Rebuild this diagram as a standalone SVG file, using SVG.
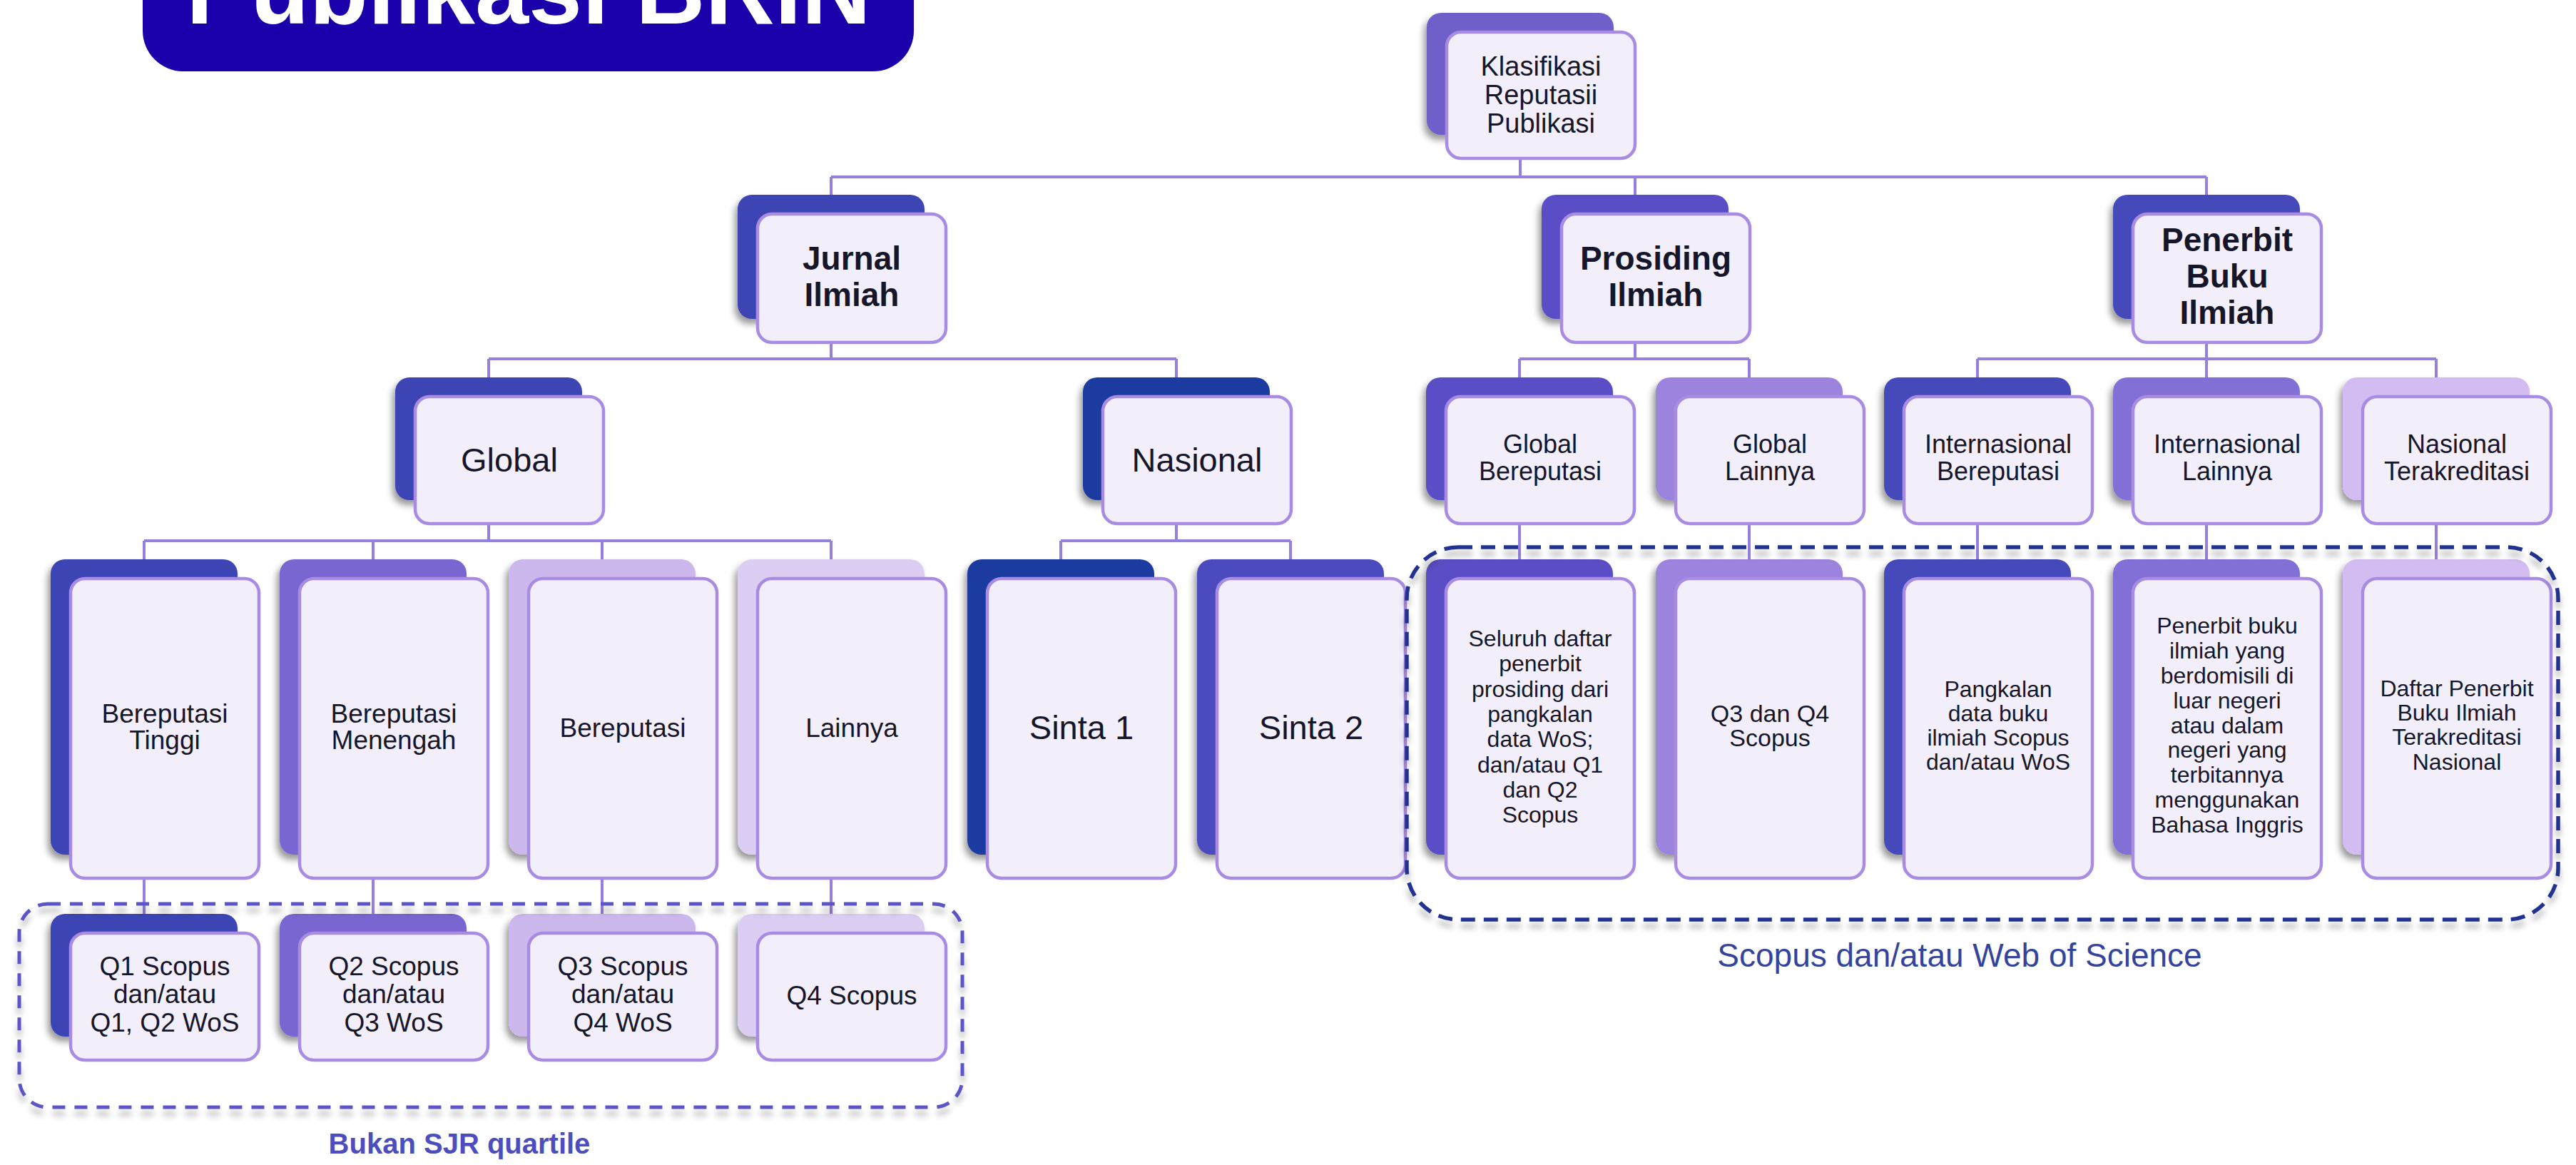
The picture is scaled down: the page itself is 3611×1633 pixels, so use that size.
<svg xmlns="http://www.w3.org/2000/svg" width="3611" height="1633" viewBox="0 0 3611 1633">
<defs>
<filter id="sh" x="-20%" y="-20%" width="140%" height="140%"><feDropShadow dx="-4" dy="7" stdDeviation="5" flood-color="#000" flood-opacity="0.4"/></filter>
<filter id="dsh" x="-5%" y="-10%" width="110%" height="125%"><feDropShadow dx="0" dy="9" stdDeviation="4" flood-color="#000" flood-opacity="0.3"/></filter>
<style>
.back{filter:url(#sh);}
.front{fill:#F3EFFA;stroke:#A88CE4;stroke-width:4.5;}
.conn{stroke:#9580E0;stroke-width:4;fill:none;}
.t{font-family:"Liberation Sans",Arial,sans-serif;fill:#16162a;text-anchor:middle;}
.b{font-weight:bold;}
.s46{font-size:46px;}
.s47{font-size:47px;}
.s38{font-size:38px;}
.s36{font-size:36px;}
.s37{font-size:37px;}
.s32{font-size:32px;}
.s34{font-size:34px;}
.c1{fill:#6E5FC9;}
.c2{fill:#3D45B4;}
.c3{fill:#5A4EC5;}
.c4{fill:#4449BA;}
.c5{fill:#1E3BA0;}
.c6{fill:#4B4BBF;}
.c7{fill:#7966D0;}
.c8{fill:#CDB8EE;}
.c9{fill:#DCCEF2;}
.c10{fill:#9C83DD;}
.c11{fill:#8270D6;}
.c12{fill:#D2BCF2;}
</style>
</defs>
<rect width="3611" height="1633" fill="#FFFFFF"/>

<g id="title">
<rect x="200" y="-60" width="1081" height="160" rx="57" fill="#1A00AA"/>
<text x="741" y="33" font-family="Liberation Sans, Arial, sans-serif" font-weight="bold" font-size="135" fill="#FFFFFF" text-anchor="middle">Publikasi BRIN</text>
</g>

<g id="connectors">
<path class="conn" d="M2131 222V248M1165 248H3093M1165 248V273M2292 248V273M3093 248V273"/>
<path class="conn" d="M1165 480V503M685 503H1649M685 503V529M1649 503V529"/>
<path class="conn" d="M2292 480V503M2130 503H2452M2130 503V529M2452 503V529"/>
<path class="conn" d="M3093 480V503M2772 503H3415M2772 503V529M3093 503V529M3415 503V529"/>
<path class="conn" d="M685 734V758M202 758H1165M202 758V784M523 758V784M844 758V784M1165 758V784"/>
<path class="conn" d="M1649 734V758M1487 758H1809M1487 758V784M1809 758V784"/>
<path class="conn" d="M2130 734V784M2452 734V784M2772 734V784M3093 734V784M3415 734V784"/>
<path class="conn" d="M202 1231V1281M523 1231V1281M844 1231V1281M1165 1231V1281"/>
</g>

<g id="node-root">
<rect class="back c1" x="2000" y="18" width="262" height="171" rx="20"/>
<rect class="front" x="2028" y="45" width="264" height="177" rx="20"/>
<text class="t s38" x="2160" y="106">Klasifikasi</text>
<text class="t s38" x="2160" y="146">Reputasii</text>
<text class="t s38" x="2160" y="186">Publikasi</text>
</g>

<g id="node-jurnal">
<rect class="back c2" x="1034" y="273" width="262" height="174" rx="20"/>
<rect class="front" x="1062" y="300" width="264" height="180" rx="20"/>
<text class="t b s46" x="1194" y="378">Jurnal</text>
<text class="t b s46" x="1194" y="429">Ilmiah</text>
</g>

<g id="node-prosiding">
<rect class="back c3" x="2161" y="273" width="262" height="174" rx="20"/>
<rect class="front" x="2189" y="300" width="264" height="180" rx="20"/>
<text class="t b s46" x="2321" y="378">Prosiding</text>
<text class="t b s46" x="2321" y="429">Ilmiah</text>
</g>

<g id="node-penerbit">
<rect class="back c4" x="2962" y="273" width="262" height="174" rx="20"/>
<rect class="front" x="2990" y="300" width="264" height="180" rx="20"/>
<text class="t b s46" x="3122" y="352">Penerbit</text>
<text class="t b s46" x="3122" y="403">Buku</text>
<text class="t b s46" x="3122" y="454">Ilmiah</text>
</g>

<g id="node-global">
<rect class="back c2" x="554" y="529" width="262" height="172" rx="20"/>
<rect class="front" x="582" y="556" width="264" height="178" rx="20"/>
<text class="t s47" x="714" y="661">Global</text>
</g>

<g id="node-nasional">
<rect class="back c5" x="1518" y="529" width="262" height="172" rx="20"/>
<rect class="front" x="1546" y="556" width="264" height="178" rx="20"/>
<text class="t s47" x="1678" y="661">Nasional</text>
</g>

<g id="node-global-bereputasi">
<rect class="back c3" x="1999" y="529" width="262" height="172" rx="20"/>
<rect class="front" x="2027" y="556" width="264" height="178" rx="20"/>
<text class="t s36" x="2159" y="635">Global</text>
<text class="t s36" x="2159" y="673">Bereputasi</text>
</g>

<g id="node-global-lainnya">
<rect class="back c10" x="2321" y="529" width="262" height="172" rx="20"/>
<rect class="front" x="2349" y="556" width="264" height="178" rx="20"/>
<text class="t s36" x="2481" y="635">Global</text>
<text class="t s36" x="2481" y="673">Lainnya</text>
</g>

<g id="node-internasional-bereputasi">
<rect class="back c4" x="2641" y="529" width="262" height="172" rx="20"/>
<rect class="front" x="2669" y="556" width="264" height="178" rx="20"/>
<text class="t s36" x="2801" y="635">Internasional</text>
<text class="t s36" x="2801" y="673">Bereputasi</text>
</g>

<g id="node-internasional-lainnya">
<rect class="back c11" x="2962" y="529" width="262" height="172" rx="20"/>
<rect class="front" x="2990" y="556" width="264" height="178" rx="20"/>
<text class="t s36" x="3122" y="635">Internasional</text>
<text class="t s36" x="3122" y="673">Lainnya</text>
</g>

<g id="node-nasional-terakreditasi">
<rect class="back c12" x="3284" y="529" width="262" height="172" rx="20"/>
<rect class="front" x="3312" y="556" width="264" height="178" rx="20"/>
<text class="t s36" x="3444" y="635">Nasional</text>
<text class="t s36" x="3444" y="673">Terakreditasi</text>
</g>

<g id="node-bereputasi-tinggi">
<rect class="back c2" x="71" y="784" width="262" height="414" rx="20"/>
<rect class="front" x="99" y="811" width="264" height="420" rx="20"/>
<text class="t s37" x="231" y="1013">Bereputasi</text>
<text class="t s37" x="231" y="1050">Tinggi</text>
</g>

<g id="node-bereputasi-menengah">
<rect class="back c7" x="392" y="784" width="262" height="414" rx="20"/>
<rect class="front" x="420" y="811" width="264" height="420" rx="20"/>
<text class="t s37" x="552" y="1013">Bereputasi</text>
<text class="t s37" x="552" y="1050">Menengah</text>
</g>

<g id="node-bereputasi">
<rect class="back c8" x="713" y="784" width="262" height="414" rx="20"/>
<rect class="front" x="741" y="811" width="264" height="420" rx="20"/>
<text class="t s37" x="873" y="1033">Bereputasi</text>
</g>

<g id="node-lainnya">
<rect class="back c9" x="1034" y="784" width="262" height="414" rx="20"/>
<rect class="front" x="1062" y="811" width="264" height="420" rx="20"/>
<text class="t s37" x="1194" y="1033">Lainnya</text>
</g>

<g id="node-sinta-1">
<rect class="back c5" x="1356" y="784" width="262" height="414" rx="20"/>
<rect class="front" x="1384" y="811" width="264" height="420" rx="20"/>
<text class="t s47" x="1516" y="1036">Sinta 1</text>
</g>

<g id="node-sinta-2">
<rect class="back c6" x="1678" y="784" width="262" height="414" rx="20"/>
<rect class="front" x="1706" y="811" width="264" height="420" rx="20"/>
<text class="t s47" x="1838" y="1036">Sinta 2</text>
</g>

<g id="node-seluruh">
<rect class="back c3" x="1999" y="784" width="262" height="414" rx="20"/>
<rect class="front" x="2027" y="811" width="264" height="420" rx="20"/>
<text class="t s32" x="2159" y="906">Seluruh daftar</text>
<text class="t s32" x="2159" y="941">penerbit</text>
<text class="t s32" x="2159" y="977">prosiding dari</text>
<text class="t s32" x="2159" y="1012">pangkalan</text>
<text class="t s32" x="2159" y="1047">data WoS;</text>
<text class="t s32" x="2159" y="1083">dan/atau Q1</text>
<text class="t s32" x="2159" y="1118">dan Q2</text>
<text class="t s32" x="2159" y="1153">Scopus</text>
</g>

<g id="node-q3q4">
<rect class="back c10" x="2321" y="784" width="262" height="414" rx="20"/>
<rect class="front" x="2349" y="811" width="264" height="420" rx="20"/>
<text class="t s34" x="2481" y="1012">Q3 dan Q4</text>
<text class="t s34" x="2481" y="1046">Scopus</text>
</g>

<g id="node-pangkalan">
<rect class="back c4" x="2641" y="784" width="262" height="414" rx="20"/>
<rect class="front" x="2669" y="811" width="264" height="420" rx="20"/>
<text class="t s32" x="2801" y="977">Pangkalan</text>
<text class="t s32" x="2801" y="1011">data buku</text>
<text class="t s32" x="2801" y="1045">ilmiah Scopus</text>
<text class="t s32" x="2801" y="1079">dan/atau WoS</text>
</g>

<g id="node-penerbit-buku">
<rect class="back c11" x="2962" y="784" width="262" height="414" rx="20"/>
<rect class="front" x="2990" y="811" width="264" height="420" rx="20"/>
<text class="t s32" x="3122" y="888">Penerbit buku</text>
<text class="t s32" x="3122" y="923">ilmiah yang</text>
<text class="t s32" x="3122" y="958">berdomisili di</text>
<text class="t s32" x="3122" y="993">luar negeri</text>
<text class="t s32" x="3122" y="1028">atau dalam</text>
<text class="t s32" x="3122" y="1062">negeri yang</text>
<text class="t s32" x="3122" y="1097">terbitannya</text>
<text class="t s32" x="3122" y="1132">menggunakan</text>
<text class="t s32" x="3122" y="1167">Bahasa Inggris</text>
</g>

<g id="node-daftar-penerbit">
<rect class="back c12" x="3284" y="784" width="262" height="414" rx="20"/>
<rect class="front" x="3312" y="811" width="264" height="420" rx="20"/>
<text class="t s32" x="3444" y="976">Daftar Penerbit</text>
<text class="t s32" x="3444" y="1010">Buku Ilmiah</text>
<text class="t s32" x="3444" y="1044">Terakreditasi</text>
<text class="t s32" x="3444" y="1079">Nasional</text>
</g>

<g id="node-q1">
<rect class="back c2" x="71" y="1281" width="262" height="172" rx="20"/>
<rect class="front" x="99" y="1308" width="264" height="178" rx="20"/>
<text class="t s37" x="231" y="1367">Q1 Scopus</text>
<text class="t s37" x="231" y="1406">dan/atau</text>
<text class="t s37" x="231" y="1446">Q1, Q2 WoS</text>
</g>

<g id="node-q2">
<rect class="back c7" x="392" y="1281" width="262" height="172" rx="20"/>
<rect class="front" x="420" y="1308" width="264" height="178" rx="20"/>
<text class="t s37" x="552" y="1367">Q2 Scopus</text>
<text class="t s37" x="552" y="1406">dan/atau</text>
<text class="t s37" x="552" y="1446">Q3 WoS</text>
</g>

<g id="node-q3">
<rect class="back c8" x="713" y="1281" width="262" height="172" rx="20"/>
<rect class="front" x="741" y="1308" width="264" height="178" rx="20"/>
<text class="t s37" x="873" y="1367">Q3 Scopus</text>
<text class="t s37" x="873" y="1406">dan/atau</text>
<text class="t s37" x="873" y="1446">Q4 WoS</text>
</g>

<g id="node-q4">
<rect class="back c9" x="1034" y="1281" width="262" height="172" rx="20"/>
<rect class="front" x="1062" y="1308" width="264" height="178" rx="20"/>
<text class="t s37" x="1194" y="1408">Q4 Scopus</text>
</g>

<g id="group-bukan-sjr">
<rect x="27" y="1267" width="1322" height="285" rx="40" fill="none" stroke="#5B55C8" stroke-width="5" stroke-dasharray="18 13" filter="url(#dsh)"/>
<text x="644" y="1617" font-family="Liberation Sans, Arial, sans-serif" font-weight="bold" font-size="40" fill="#4D4DBF" text-anchor="middle">Bukan SJR quartile</text>
</g>

<g id="group-scopus-wos">
<rect x="1972" y="767" width="1614" height="522" rx="72" fill="none" stroke="#213290" stroke-width="5.5" stroke-dasharray="20 12" filter="url(#dsh)"/>
<text x="2747" y="1355" font-family="Liberation Sans, Arial, sans-serif" font-size="46" fill="#34449C" text-anchor="middle">Scopus dan/atau Web of Science</text>
</g>
</svg>
